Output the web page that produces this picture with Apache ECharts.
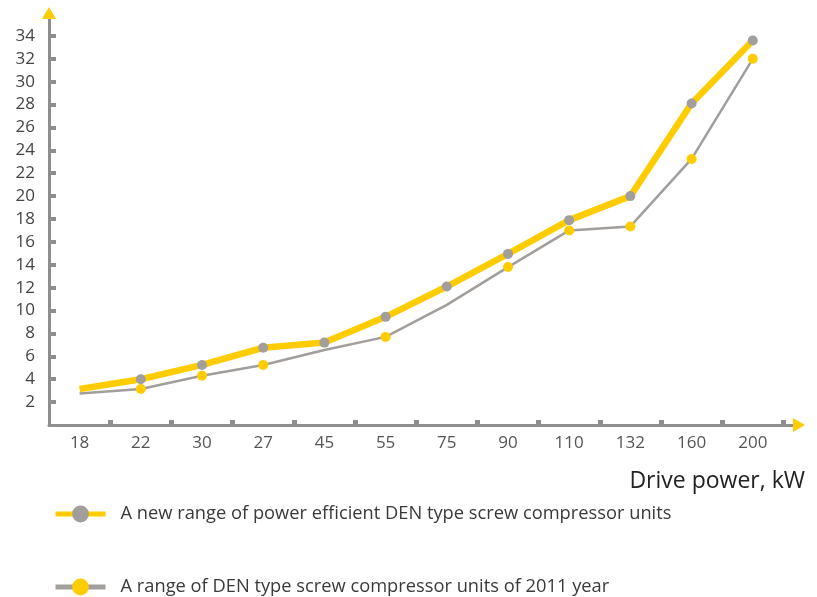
<!DOCTYPE html>
<html>
<head>
<meta charset="utf-8">
<script src="https://cdn.jsdelivr.net/npm/echarts@6/dist/echarts.min.js"></script>
<style>
  html, body { margin: 0; padding: 0; background: #fff; }
  #chart { width: 817px; height: 597px; }
</style>
</head>
<body>
<div id="chart"></div>
<script>
// Drive power categories, kW
const categories = ['18', '22', '30', '27', '45', '55', '75', '90', '110', '132', '160', '200'];

// New power-efficient DEN range
const newRangeName = 'A new range of power efficient DEN type screw compressor units';
const newRangeValues = [3.15, 4.0, 5.25, 6.75, 7.2, 9.45, 12.1, 14.95, 17.9, 20.0, 28.1, 33.6];
const newRangeMarked = [false, true, true, true, true, true, true, true, true, true, true, true];

// 2011 DEN range
const oldRangeName = 'A range of DEN type screw compressor units of 2011 year';
const oldRangeValues = [2.75, 3.15, 4.3, 5.25, 6.55, 7.7, 10.5, 13.8, 17.0, 17.35, 23.25, 32.0];
const oldRangeMarked = [false, true, true, true, false, true, false, true, true, true, true, true];

// Value-axis tick labels
const yTickValues = [2, 4, 6, 8, 10, 12, 14, 16, 18, 20, 22, 24, 26, 28, 30, 32, 34];

const YELLOW = '#FFCC00';
const GREY = '#A29E9B';
const AXIS = '#8E8E8E';
const FONT = 'Open Sans';

const catIndex = categories.map((c, i) => i);
const bandEdges = categories.map((c, i) => i + 0.5);

function toPoints(values, marked) {
  return values.map((v, i) => marked[i] ? [i, v] : { value: [i, v], symbol: 'none' });
}

const chart = echarts.init(document.getElementById('chart'), null, { renderer: 'canvas' });

chart.setOption({
  animation: false,
  backgroundColor: '#fff',
  textStyle: { fontFamily: FONT },
  grid: { left: 49, right: 18, top: 13, bottom: 172, containLabel: false },
  title: {
    text: 'Drive power, kW',
    right: 7,
    top: 465,
    textStyle: { fontFamily: FONT, fontSize: 23, fontWeight: 'normal', color: '#222' }
  },
  legend: {
    orient: 'vertical',
    left: 53,
    top: 505,
    height: 120,
    padding: 0,
    itemWidth: 50,
    itemHeight: 21,
    itemGap: 55,
    textStyle: { fontFamily: FONT, fontSize: 18.3, color: '#3a3a3a', padding: [0, 0, 0, 10] },
    data: [
      { name: newRangeName, lineStyle: { width: 5, color: YELLOW }, itemStyle: { color: GREY } },
      { name: oldRangeName, lineStyle: { width: 5, color: GREY }, itemStyle: { color: YELLOW } }
    ]
  },
  xAxis: [
    {
      type: 'value',
      min: -0.5,
      max: 11.755,
      splitLine: { show: false },
      axisLine: { onZero: false, lineStyle: { color: AXIS, width: 3 } },
      axisTick: { show: true, inside: true, length: 5, customValues: bandEdges, lineStyle: { color: AXIS, width: 5 } },
      axisLabel: {
        customValues: catIndex,
        margin: 10,
        fontFamily: FONT,
        fontSize: 17,
        color: '#555',
        formatter: v => categories[Math.round(v)]
      }
    },
    {
      type: 'value',
      min: -0.5,
      max: 11.755,
      position: 'bottom',
      splitLine: { show: false },
      axisTick: { show: false },
      axisLabel: { show: false },
      axisLine: { onZero: false, symbol: ['none', 'triangle'], symbolSize: [14, 12], lineStyle: { color: YELLOW, width: 0 } }
    }
  ],
  yAxis: [
    {
      type: 'value',
      min: 0,
      max: 36,
      splitLine: { show: false },
      axisLine: { show: true, onZero: false, lineStyle: { color: AXIS, width: 3 } },
      axisTick: { show: true, inside: true, length: 7, customValues: yTickValues, lineStyle: { color: AXIS, width: 4 } },
      axisLabel: {
        customValues: yTickValues,
        margin: 14,
        fontFamily: FONT,
        fontSize: 17,
        color: '#444'
      }
    },
    {
      type: 'value',
      min: 0,
      max: 36,
      position: 'left',
      splitLine: { show: false },
      axisTick: { show: false },
      axisLabel: { show: false },
      axisLine: { show: true, onZero: false, symbol: ['none', 'triangle'], symbolSize: [14, 12], lineStyle: { color: YELLOW, width: 0 } }
    }
  ],
  series: [
    {
      name: oldRangeName,
      type: 'line',
      xAxisIndex: 0,
      yAxisIndex: 0,
      data: toPoints(oldRangeValues, oldRangeMarked),
      symbol: 'circle',
      symbolSize: 10,
      showAllSymbol: true,
      lineStyle: { color: GREY, width: 2.5 },
      itemStyle: { color: YELLOW },
      z: 2
    },
    {
      name: newRangeName,
      type: 'line',
      xAxisIndex: 0,
      yAxisIndex: 0,
      data: toPoints(newRangeValues, newRangeMarked),
      symbol: 'circle',
      symbolSize: 10,
      showAllSymbol: true,
      lineStyle: { color: YELLOW, width: 6.5 },
      itemStyle: { color: GREY },
      z: 3
    }
  ]
});
</script>
</body>
</html>
